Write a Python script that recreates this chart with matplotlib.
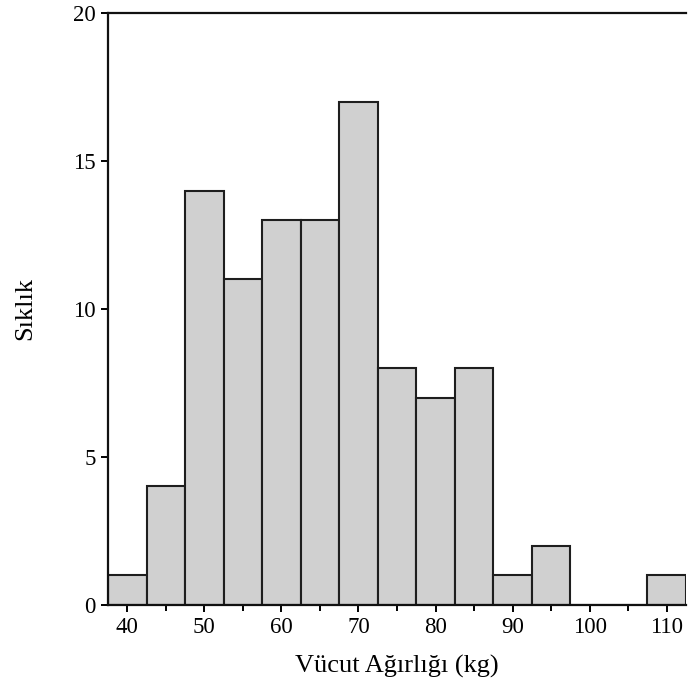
import numpy as np
import matplotlib.pyplot as plt

# bin centres (kg) and counts
bin_centres = [40, 45, 50, 55, 60, 65, 70, 75, 80, 85, 90, 95, 100, 105, 110]
counts = [1, 4, 14, 11, 13, 13, 17, 8, 7, 8, 1, 2, 0, 0, 1]
x_ticks = [40, 50, 60, 70, 80, 90, 100, 110]
y_ticks = [0, 5, 10, 15, 20]

plt.rcParams['font.family'] = ['Liberation Serif', 'DejaVu Serif']

fig = plt.figure(figsize=(6.88, 6.92), dpi=100)
ax = fig.add_axes([0.157, 0.126, 0.84, 0.855])

ax.bar(bin_centres, counts, width=5, color='#d0d0d0', edgecolor='#1e1e1e',
       linewidth=1.5, align='center')

ax.set_xlim(37.5, 112.5)
ax.set_ylim(0, 20)
ax.set_xticks(x_ticks)
ax.set_xticks([45, 55, 65, 75, 85, 95, 105], minor=True)
ax.set_yticks(y_ticks)
ax.tick_params(axis='both', labelsize=16.5, width=1.4, length=5, direction='out', pad=4)
ax.tick_params(axis='x', which='minor', width=1.4, length=4)

for side in ['left', 'bottom', 'top']:
    ax.spines[side].set_linewidth(1.6)
    ax.spines[side].set_color('#111111')
ax.spines['right'].set_visible(False)

ax.set_xlabel('Vücut Ağırlığı (kg)', fontsize=19, labelpad=12)
ax.set_ylabel('Sıklık', fontsize=19, labelpad=26)

fig.savefig('out.png', dpi=100)
